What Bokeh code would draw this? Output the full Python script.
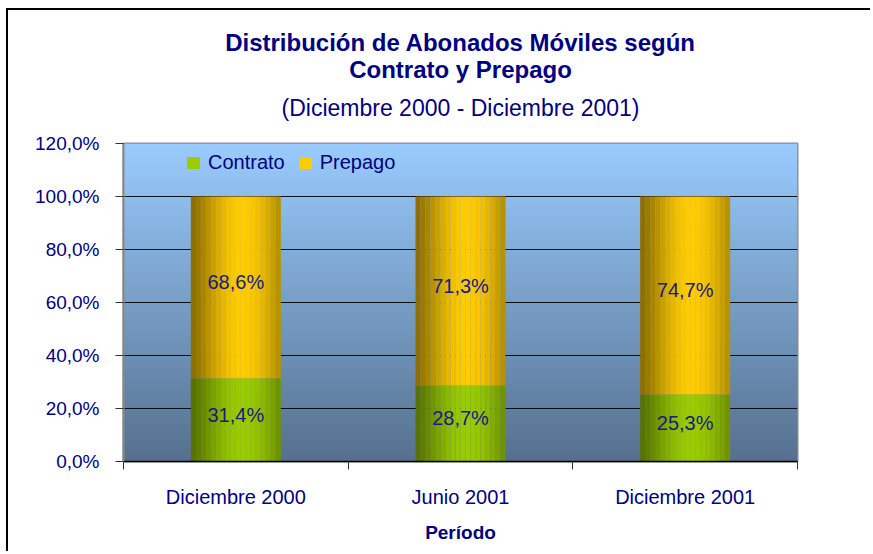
import numpy as np
from bokeh.plotting import figure
from bokeh.models import (ColumnDataSource, FixedTicker, Title, Legend, LegendItem,
                          LabelSet, Range1d)
from bokeh.core.properties import value
from bokeh.embed import file_html
from bokeh.resources import INLINE

# ---- data ----
categories = ["Diciembre 2000", "Junio 2001", "Diciembre 2001"]
contrato = [31.4, 28.7, 25.3]
prepago = [68.6, 71.3, 74.7]
series_names = ["Contrato", "Prepago"]
y_ticks = [0, 20, 40, 60, 80, 100, 120]
y_tick_labels = ["0,0%", "20,0%", "40,0%", "60,0%", "80,0%", "100,0%", "120,0%"]
title_lines = ["Distribución de Abonados Móviles según", "Contrato y Prepago",
               "(Diciembre 2000 - Diciembre 2001)"]

NAVY = "#000080"
FONT = "Arial"

ncat = len(categories)
y_max = y_ticks[-1]

p = figure(width=864, height=543, output_backend="svg", toolbar_location=None,
           x_range=Range1d(0, ncat), y_range=Range1d(0, y_max),
           min_border_left=115, min_border_right=75, min_border_top=133,
           min_border_bottom=92, background_fill_color="#ffffff",
           border_fill_color="#ffffff")
p.title = None
p.margin = (8, 0, 0, 6)
p.styles = {"border-left": "2px solid #000000", "border-top": "2px solid #000000"}

# ---- background gradient (plot area) ----
H = 256
bottom_c = np.array([0x56, 0x71, 0x8F], dtype=float)
top_c = np.array([0x9A, 0xCC, 0xFF], dtype=float)
f = np.linspace(0, 1, H)[:, None]
cols = (bottom_c * (1 - f) + top_c * f).astype(np.uint8)
img = np.empty((H, 1), dtype=np.uint32)
view = img.view(dtype=np.uint8).reshape((H, 1, 4))
view[:, 0, 0] = cols[:, 0]
view[:, 0, 1] = cols[:, 1]
view[:, 0, 2] = cols[:, 2]
view[:, 0, 3] = 255
p.image_rgba(image=[img], x=0, y=0, dw=ncat, dh=y_max, level="image")

# ---- striped (cylinder-like) bars ----
BAR_W = 0.4
N = 18
def shade(dark, bright, t):
    w = max(0.0, np.cos((t - 0.58) * np.pi / 1.16)) ** 1.3
    d = np.array([int(dark[i:i + 2], 16) for i in (1, 3, 5)], dtype=float)
    b = np.array([int(bright[i:i + 2], 16) for i in (1, 3, 5)], dtype=float)
    c = d * (1 - w) + b * w
    return "#%02x%02x%02x" % tuple(int(round(v)) for v in c)

palettes = {"Contrato": ("#557000", "#9ACC00"), "Prepago": ("#8A6C00", "#FFCC00")}
renderers = {}
center_index = {}
for s, vals in zip(series_names, [contrato, prepago]):
    xs, tops, bottoms, colors = [], [], [], []
    for j in range(ncat):
        base = 0.0 if s == "Contrato" else contrato[j]
        for i in range(N):
            t = (i + 0.5) / N
            xs.append(j + 0.5 + (t - 0.5) * BAR_W)
            bottoms.append(base)
            tops.append(base + vals[j])
            colors.append(shade(*palettes[s], t))
    src = ColumnDataSource(dict(x=xs, top=tops, bottom=bottoms, color=colors))
    renderers[s] = p.vbar(x="x", top="top", bottom="bottom", width=BAR_W / N * 1.02,
                          fill_color="color", line_color=None, source=src)
    center_index[s] = int(N * 0.58)

# ---- value labels ----
lab_x, lab_y, lab_t = [], [], []
for j in range(ncat):
    lab_x += [j + 0.5, j + 0.5]
    lab_y += [contrato[j] / 2, contrato[j] + prepago[j] / 2]
    lab_t += [("%.1f%%" % contrato[j]).replace(".", ","),
              ("%.1f%%" % prepago[j]).replace(".", ",")]
lsrc = ColumnDataSource(dict(x=lab_x, y=lab_y, t=lab_t))
p.add_layout(LabelSet(x="x", y="y", text="t", source=lsrc, text_align="center",
                      text_baseline="middle", y_offset=5, text_color="#1a1a80",
                      text_font=value(FONT), text_font_size="20px"))

# ---- legend ----
legend = Legend(items=[LegendItem(label=s, renderers=[renderers[s]], index=center_index[s])
                       for s in series_names],
                orientation="horizontal", location=(58, 283),
                background_fill_alpha=0, border_line_alpha=0,
                label_text_font=FONT, label_text_font_size="20px", label_text_color=NAVY,
                glyph_width=16, glyph_height=15, label_standoff=7, spacing=12,
                padding=4, margin=0)
p.add_layout(legend)

# ---- titles (first added is nearest the plot) ----
p.add_layout(Title(text=title_lines[2], align="center",
                   text_font=FONT, text_font_size="23px", text_font_style="normal",
                   text_color=NAVY, standoff=46), "above")
p.add_layout(Title(text=title_lines[1], align="center",
                   text_font=FONT, text_font_size="24px", text_font_style="bold",
                   text_color=NAVY, standoff=-27), "above")
p.add_layout(Title(text=title_lines[0], align="center",
                   text_font=FONT, text_font_size="24px", text_font_style="bold",
                   text_color=NAVY, standoff=24), "above")

# ---- axes ----
p.xaxis.ticker = FixedTicker(ticks=[j + 0.5 for j in range(ncat)],
                             minor_ticks=list(range(ncat + 1)))
p.xaxis.major_label_overrides = {j + 0.5: c for j, c in enumerate(categories)}
p.xaxis.major_tick_out = 0
p.xaxis.major_tick_in = 0
p.xaxis.minor_tick_out = 8
p.xaxis.minor_tick_in = 0
p.xaxis.minor_tick_line_color = "#333333"
p.xaxis.axis_line_color = "#000000"
p.xaxis.axis_line_width = 1.5
p.xaxis.major_label_standoff = 16
p.xaxis.major_label_text_font = FONT
p.xaxis.major_label_text_font_size = "20px"
p.xaxis.major_label_text_color = NAVY
p.xaxis.axis_label = "Período"
p.xaxis.axis_label_text_font = FONT
p.xaxis.axis_label_text_font_size = "19px"
p.xaxis.axis_label_text_font_style = "bold"
p.xaxis.axis_label_text_color = NAVY
p.xaxis.axis_label_standoff = 11

p.yaxis.ticker = FixedTicker(ticks=y_ticks)
p.yaxis.major_label_overrides = dict(zip(y_ticks, y_tick_labels))
p.yaxis.major_tick_out = 8
p.yaxis.major_tick_in = 0
p.yaxis.major_tick_line_color = "#333333"
p.yaxis.minor_tick_line_color = None
p.yaxis.axis_line_color = "#888888"
p.yaxis.axis_line_width = 2
p.yaxis.major_label_standoff = 16
p.yaxis.major_label_text_font = FONT
p.yaxis.major_label_text_font_size = "19px"
p.yaxis.major_label_text_color = NAVY

p.xgrid.grid_line_color = None
p.ygrid.grid_line_color = "#000000"
p.ygrid.grid_line_alpha = 0.9
p.ygrid.grid_line_width = 1
p.outline_line_color = "#8a8a8a"
p.outline_line_width = 2

open("out.html", "w").write(file_html(p, INLINE))
